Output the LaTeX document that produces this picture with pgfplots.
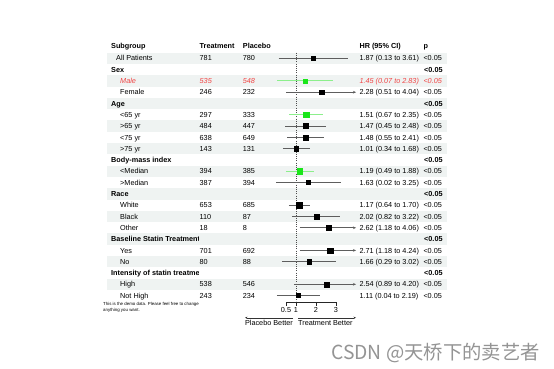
\documentclass[border=0pt]{standalone}
\usepackage{pgfplots}
\pgfplotsset{compat=1.18}
\usepackage{pgfplotstable}
\usepackage{fontspec}
\setmainfont{Liberation Sans}
\newfontfamily\cjk{Noto Sans CJK SC}
\usetikzlibrary{arrows.meta}
\definecolor{rowbg}{HTML}{EFF3F2}
\definecolor{cigray}{HTML}{5E5E5E}
\definecolor{cigreen}{HTML}{8CEF8C}
\definecolor{sqgreen}{HTML}{1AE61A}
\definecolor{malered}{HTML}{F04646}

% row, HR, half side of square
\pgfplotstableread{
r hr s
0 1.87 2.15
3 2.28 2.25
6 1.47 2.5
7 1.48 2.4
8 1.01 2.5
11 1.63 2.0
13 1.17 3.0
14 2.02 2.65
15 2.62 2.65
17 2.71 2.65
18 1.66 2.5
20 2.54 2.5
21 1.11 2.0
}\blackpts
\pgfplotstableread{
r hr s
2 1.45 2.0
5 1.51 2.65
10 1.19 2.65
}\greenpts

\newcommand\R[7][]{%
  \node[anchor=base west,#1] at (#3,{60.9+11.3*#2}) {#4};
  \node[anchor=base west,#1] at (199.5,{60.9+11.3*#2}) {#5};
  \node[anchor=base west,#1] at (242.7,{60.9+11.3*#2}) {#6};
  \node[anchor=base west,#1] at (359.3,{60.9+11.3*#2}) {#7};
  \node[anchor=base west,#1] at (423.3,{60.9+11.3*#2}) {<0.05};}
\newcommand\G[2]{%
  \begin{scope}
  \clip (105,{58.3+11.3*#1-6}) rectangle (198,{58.3+11.3*#1+6});
  \node[anchor=base west] at (111,{60.9+11.3*#1}) {\bfseries #2};
  \end{scope}
  \node[anchor=base west] at (424,{60.9+11.3*#1}) {\bfseries <0.05};}

\begin{document}
\fontsize{7.3}{8.8}\selectfont
\begin{tikzpicture}
\path[use as bounding box, fill=white] (0,0) rectangle (554bp,-369bp);
\begin{axis}[at={(0,0)}, anchor=north west, scale only axis,
  width=554bp, height=369bp,
  xmin=-13.8, xmax=13.9, ymin=-5.159, ymax=27.496, y dir=reverse,
  hide axis, clip=false,
  ciblack/.style={draw=cigray, line width=0.9bp, mark=none},
  cigr/.style={draw=cigreen, line width=0.9bp, mark=none},
  arr/.style={-{Stealth[length=3bp,width=2.6bp]}}]
% row shading
\pgfplotsinvokeforeach{0,2,4,6,8,10,12,14,16,18,20}{
  \fill[rowbg] (axis cs:-8.45,{#1-0.5}) rectangle (axis cs:8.55,{#1+0.5});
}
% reference line
\draw[black!70, line width=0.6bp, dash pattern=on 1bp off 1.2bp]
  (axis cs:1,-0.5) -- (axis cs:1,21.5);
% confidence intervals
\addplot[ciblack] coordinates {(0.13,0) (3.61,0)};
\addplot[cigr] coordinates {(0.07,2) (2.83,2)};
\addplot[ciblack,arr] coordinates {(0.51,3) (4.0,3)};
\addplot[cigr] coordinates {(0.67,5) (2.35,5)};
\addplot[ciblack] coordinates {(0.45,6) (2.48,6)};
\addplot[ciblack] coordinates {(0.55,7) (2.41,7)};
\addplot[ciblack] coordinates {(0.34,8) (1.68,8)};
\addplot[cigr] coordinates {(0.49,10) (1.88,10)};
\addplot[ciblack] coordinates {(0.02,11) (3.25,11)};
\addplot[ciblack] coordinates {(0.64,13) (1.70,13)};
\addplot[ciblack] coordinates {(0.82,14) (3.22,14)};
\addplot[ciblack,arr] coordinates {(1.18,15) (4.0,15)};
\addplot[ciblack,arr] coordinates {(1.18,17) (4.0,17)};
\addplot[ciblack] coordinates {(0.29,18) (3.02,18)};
\addplot[ciblack,arr] coordinates {(0.89,20) (4.0,20)};
\addplot[ciblack] coordinates {(0.04,21) (2.19,21)};
% point estimates
\addplot[scatter, only marks, mark=square*,
  scatter/use mapped color={draw=black,fill=black},
  visualization depends on={\thisrow{s}\as\ms},
  scatter/@pre marker code/.append style={/tikz/mark size=\ms}]
  table[x=hr,y=r]{\blackpts};
\addplot[scatter, only marks, mark=square*,
  scatter/use mapped color={draw=sqgreen,fill=sqgreen},
  visualization depends on={\thisrow{s}\as\ms},
  scatter/@pre marker code/.append style={/tikz/mark size=\ms}]
  table[x=hr,y=r]{\greenpts};
% x axis
\draw[black!85, line width=0.5bp] (axis cs:0.5,21.57) -- (axis cs:3,21.57);
\draw[black!85, line width=0.5bp] (axis cs:0.5,21.57) -- (axis cs:0.5,21.92);
\draw[black!85, line width=0.5bp] (axis cs:1,21.57) -- (axis cs:1,21.92);
\draw[black!85, line width=0.5bp] (axis cs:2,21.57) -- (axis cs:2,21.92);
\draw[black!85, line width=0.5bp] (axis cs:3,21.57) -- (axis cs:3,21.92);
\node[anchor=base, inner sep=0pt] at (axis cs:0.5,22.5) {0.5};
\node[anchor=base, inner sep=0pt] at (axis cs:1,22.5) {1};
\node[anchor=base, inner sep=0pt] at (axis cs:2,22.5) {2};
\node[anchor=base, inner sep=0pt] at (axis cs:3,22.5) {3};
\draw[black!80, line width=0.5bp, -{Stealth[length=2.5bp,width=2.2bp]}]
  (axis cs:0.85,22.96) -- (axis cs:-1.55,22.96);
\draw[black!80, line width=0.5bp, -{Stealth[length=2.5bp,width=2.2bp]}]
  (axis cs:1.1,22.96) -- (axis cs:4.0,22.96);
\node[anchor=base east, inner sep=0pt] at (axis cs:0.85,23.68) {Placebo Better};
\node[anchor=base west, inner sep=0pt] at (axis cs:1.1,23.68) {Treatment Better};
\end{axis}
\begin{scope}[x=1bp, y=-1bp, every node/.style={inner sep=0pt}]
% header
\node[anchor=base west] at (111,48.6) {\bfseries Subgroup};
\node[anchor=base west] at (199.5,48.6) {\bfseries Treatment};
\node[anchor=base west] at (242.7,48.6) {\bfseries Placebo};
\node[anchor=base west] at (359.3,48.6) {\bfseries HR (95\% CI)};
\node[anchor=base west] at (423.3,48.6) {\bfseries p};
\R{0}{116}{All Patients}{781}{780}{1.87 (0.13 to 3.61)}
\G{1}{Sex}
\R[text=malered,font=\itshape]{2}{120}{Male}{535}{548}{1.45 (0.07 to 2.83)}
\R{3}{120}{Female}{246}{232}{2.28 (0.51 to 4.04)}
\G{4}{Age}
\R{5}{120}{<65 yr}{297}{333}{1.51 (0.67 to 2.35)}
\R{6}{120}{>65 yr}{484}{447}{1.47 (0.45 to 2.48)}
\R{7}{120}{<75 yr}{638}{649}{1.48 (0.55 to 2.41)}
\R{8}{120}{>75 yr}{143}{131}{1.01 (0.34 to 1.68)}
\G{9}{Body-mass index}
\R{10}{120}{<Median}{394}{385}{1.19 (0.49 to 1.88)}
\R{11}{120}{>Median}{387}{394}{1.63 (0.02 to 3.25)}
\G{12}{Race}
\R{13}{120}{White}{653}{685}{1.17 (0.64 to 1.70)}
\R{14}{120}{Black}{110}{87}{2.02 (0.82 to 3.22)}
\R{15}{120}{Other}{18}{8}{2.62 (1.18 to 4.06)}
\G{16}{Baseline Statin Treatment}
\R{17}{120}{Yes}{701}{692}{2.71 (1.18 to 4.24)}
\R{18}{120}{No}{80}{88}{1.66 (0.29 to 3.02)}
\G{19}{Intensity of statin treatment}
\R{20}{120}{High}{538}{546}{2.54 (0.89 to 4.20)}
\R{21}{120}{Not High}{243}{234}{1.11 (0.04 to 2.19)}
% footnote
\node[anchor=base west] at (103,305.5) {\fontsize{4.4}{5}\selectfont This is the demo data. Please feel free to change};
\node[anchor=base west] at (103,311) {\fontsize{4.4}{5}\selectfont anything you want.};
% watermark
\node[anchor=base west, text=black!42] at (331,359) {\cjk\fontsize{19.4}{21}\selectfont CSDN @天桥下的卖艺者};
\end{scope}
\end{tikzpicture}
\end{document}
